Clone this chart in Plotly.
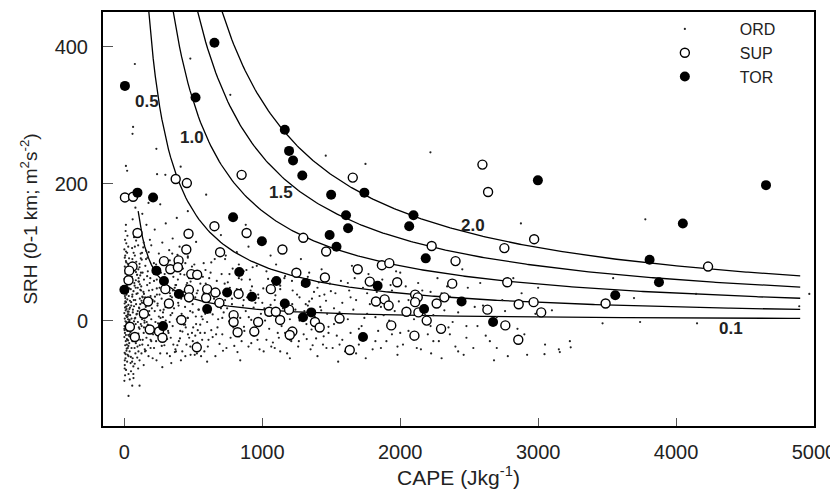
import numpy as np
import plotly.graph_objects as go

# energy-helicity index isopleths: EHI = CAPE * SRH / 160000
ehi_levels = [0.1, 0.5, 1.0, 1.5, 2.0]
ehi_labels = ["0.1", "0.5", "1.0", "1.5", "2.0"]
ehi_label_cape = [4400, 165, 490, 1135, 2530]
ehi_label_srh = [-12, 320, 267, 187, 139]

tor_cape = [4, 653, 516, 1163, 1194, 1223, 1290, 1499, 1740, 95, 208, 788, 1607, 1622,
            1488, 1538, 997, 232, 287, 395, 833, 1102, 1315, 1836, 745, 925, 1163, 600,
            1355, 1295, 0, 280, 1730, 2998, 4652, 4049, 2096, 2065, 2185, 3808, 3876,
            3559, 2445, 2173, 2673]
tor_srh = [343, 406, 326, 279, 248, 234, 212, 184, 187, 187, 180, 151, 154, 135,
           125, 108, 116, 73, 58, 39, 71, 58, 55, 51, 41, 35, 25, 17,
           12, 5, 45, -8, -24, 205, 198, 142, 154, 138, 91, 89, 56,
           37, 28, 17, -2]

sup_cape = [4, 63, 372, 453, 850, 1656, 95, 465, 653, 886, 1297, 449, 694, 1146, 1463,
            59, 35, 30, 287, 393, 333, 388, 485, 528, 1247, 1454, 1692, 1867, 1921,
            1779, 1978, 297, 468, 468, 600, 660, 828, 593, 172, 323, 689, 1062, 1194,
            1050, 1098, 1824, 1887, 1916, 141, 413, 792, 792, 970, 1129, 1382, 1416,
            1560, 1935, 40, 184, 251, 76, 276, 821, 942, 1218, 1199, 525, 1634,
            2596, 2637, 2228, 2401, 2755, 2971, 4232, 2377, 2776, 2108, 2127, 2108,
            2320, 2264, 2045, 2132, 2192, 2632, 2859, 2967, 3022, 3489, 2103, 2296,
            2762, 2856]
sup_srh = [180, 181, 207, 201, 213, 209, 128, 127, 138, 128, 121, 104, 100, 104, 101,
           79, 73, 59, 87, 88, 75, 78, 68, 67, 70, 63, 75, 81, 84,
           57, 56, 46, 45, 34, 46, 41, 39, 33, 28, 25, 26, 46, 16,
           13, 13, 28, 31, 22, 10, 1, 8, -2, -2, 1, -2, -10,
           3, -7, -9, -13, -16, -24, -25, -17, -16, -16, -21, -39, -43,
           228, 188, 109, 87, 106, 119, 79, 54, 56, 38, 34, 27,
           34, 25, 13, 12, 0, 16, 24, 27, 12, 25, -22, -12,
           -7, -28]

ord_points = [
    # CAPE near zero
    (0, -88), (5, -80), (12, -72), (3, -65), (20, -60), (8, -55), (30, -52), (2, -47), (15, -44),
    (25, -40), (6, -36), (35, -33), (10, -30), (18, -27), (0, -24), (28, -21), (4, -18), (22, -15),
    (12, -12), (33, -10), (1, -8), (16, -5), (26, -3), (8, -1), (38, 1), (3, 3), (20, 5), (13, 7),
    (30, 9), (0, 11), (24, 13), (9, 15), (36, 17), (5, 19), (17, 21), (29, 23), (2, 25), (12, 27),
    (40, 29), (21, 31), (7, 33), (32, 36), (15, 38), (0, 40), (26, 42), (10, 44), (35, 47), (4, 50),
    (19, 52), (28, 55), (13, 58), (1, 61), (37, 63), (23, 66), (8, 69), (31, 72), (16, 75), (3, 79),
    (25, 83), (11, 87), (34, 91), (6, 95), (20, 99), (0, 104), (28, 108), (14, 113), (5, 118),
    (22, 124), (9, 131), (2, -70), (18, -35), (27, 2), (10, 20), (0, -12), (33, 58), (14, 85),
    (24, -50), (7, 48), (39, -20), (11, 140),
    (3, -58), (9, -49), (17, -41), (27, -29), (36, -23), (44, -17), (52, -11), (61, -7), (70, -1),
    (79, 4), (88, 9), (97, 14), (106, 19), (115, 24), (124, 29), (133, 34), (142, 39), (6, -9),
    (14, -2), (23, 6), (31, 13), (41, 19), (49, 27), (57, 35), (66, 43), (74, 51), (83, 59), (92, 67),
    (101, 75), (110, 83), (119, 91), (128, 99), (137, 107), (146, -3), (2, -14), (11, -21), (20, -28),
    (29, -37), (38, -45), (47, -53), (56, -60), (65, -67), (74, -40), (83, -33), (92, -26), (101, -19),
    (110, -12), (119, -5), (128, 2), (137, 9), (146, 16), (4, 36), (13, 45), (22, 54), (31, 63),
    (40, 72), (49, 81), (58, 90), (67, 99), (76, 108), (85, 117), (94, 126), (103, 62), (112, 53),
    (121, 44), (130, 35), (139, 26), (148, -42), (7, 28), (16, 17), (25, 9), (34, -1), (43, -7),
    (52, 3), (61, 12), (70, 21), (79, 30), (88, 39), (97, 48), (106, 57), (115, 66), (124, -48),
    (133, -28), (142, -10), (3, 92), (12, 101), (21, 78), (30, -78), (39, -86), (48, -74), (57, -95),
    (66, -84), (75, -63), (84, 71), (93, -54), (102, -45), (111, -36), (120, 70),
    # 40-600
    (45, -62), (60, -55), (80, -48), (110, -58), (150, -45), (175, -52), (52, -40), (95, -38),
    (130, -35), (190, -40), (70, -30), (115, -28), (160, -25), (48, -22), (88, -20), (140, -18),
    (185, -15), (65, -12), (105, -10), (125, -8), (170, -6), (55, -4), (98, -2), (145, 0), (195, 2),
    (75, 3), (118, 5), (160, 7), (42, 8), (90, 10), (135, 12), (180, 14), (62, 16), (108, 18),
    (155, 20), (50, 22), (85, 24), (128, 26), (172, 28), (68, 30), (112, 32), (150, 34), (190, 36),
    (58, 38), (96, 40), (138, 42), (178, 44), (46, 46), (82, 48), (122, 50), (165, 52), (72, 55),
    (102, 57), (142, 60), (188, 62), (54, 64), (92, 67), (132, 70), (170, 72), (64, 75), (110, 78),
    (152, 80), (48, 83), (86, 86), (126, 89), (168, 92), (76, 95), (118, 98), (158, 102), (56, 106),
    (100, 110), (140, 114), (185, 118), (70, 122), (120, 127), (90, 133), (160, 140), (60, 148),
    (130, 156), (80, 165), (175, 172), (100, -70), (140, -65), (65, -78), (195, -30), (115, 45),
    (82, -5), (150, 15), (58, -30), (170, -18),
    (205, -55), (260, -48), (330, -52), (420, -45), (480, -50), (215, -40), (290, -36), (370, -42),
    (450, -35), (230, -30), (310, -27), (395, -30), (470, -25), (245, -20), (320, -18), (405, -15),
    (490, -18), (210, -12), (275, -10), (350, -8), (430, -6), (225, -2), (300, 0), (380, 2), (460, 4),
    (250, 6), (335, 8), (415, 10), (495, 12), (220, 14), (285, 16), (360, 18), (440, 20), (240, 22),
    (315, 24), (390, 26), (470, 28), (205, 30), (270, 32), (345, 34), (425, 36), (255, 38), (330, 40),
    (410, 42), (485, 44), (235, 47), (300, 50), (375, 52), (455, 55), (215, 58), (280, 61), (355, 64),
    (435, 67), (265, 70), (340, 73), (420, 76), (490, 79), (230, 82), (305, 86), (385, 90), (460, 94),
    (250, 98), (325, 103), (400, 108), (275, 114), (350, 120), (440, 126), (220, 133), (300, 142),
    (380, 150), (460, 160), (260, 170), (340, -62), (410, -58), (275, -68), (365, 48), (445, -10),
    (295, -22), (235, 60),
    (155, -44), (172, -36), (190, -28), (208, -20), (226, -12), (244, -4), (262, 4), (280, 12),
    (298, 20), (316, 28), (334, 36), (352, 44), (370, 52), (388, 60), (406, 68), (424, 76), (442, 84),
    (460, 92), (478, -38), (496, -30), (514, -22), (532, -14), (550, -6), (568, 2), (586, 10),
    (162, -2), (181, 8), (199, 18), (218, 28), (236, 38), (255, 48), (273, 58), (292, 68), (310, 78),
    (329, 88), (347, 98), (366, -46), (384, -36), (403, -26), (421, -16), (440, -6), (458, 4),
    (477, 14), (495, 24), (514, 34), (532, 44), (551, 54), (569, 64), (588, 74), (165, 65), (184, 55),
    (203, 45), (222, 35), (241, 25), (260, 15), (279, 5), (298, -5), (317, -15), (336, -25),
    (355, -35), (374, -45), (393, 22), (412, 32), (431, 42), (450, 52), (469, 62), (488, 72),
    (507, 82), (526, -48), (545, -38), (564, -28), (583, -18), (157, 90), (176, 100), (195, 110),
    (214, 84), (233, -58), (252, -25), (271, -37), (290, 92), (309, -48), (328, -2), (347, 11),
    (366, 83), (385, 96), (404, -3), (423, 7), (442, -52), (461, -20), (480, 57), (499, -10),
    (518, 6), (537, 16), (556, -52), (575, 40), (594, 22),
    # 500-1500
    (510, -50), (580, -45), (660, -52), (740, -40), (820, -46), (900, -38), (980, -42), (530, -32),
    (610, -28), (690, -34), (770, -25), (850, -30), (940, -22), (550, -18), (630, -14), (710, -20),
    (790, -10), (870, -15), (960, -8), (520, -5), (600, -2), (680, 2), (760, -1), (840, 4), (920, 1),
    (560, 6), (640, 9), (720, 12), (800, 8), (880, 14), (990, 10), (540, 16), (620, 20), (700, 18),
    (780, 24), (860, 22), (950, 26), (570, 28), (650, 32), (730, 30), (810, 36), (890, 34), (970, 38),
    (525, 40), (605, 44), (685, 42), (765, 48), (845, 46), (925, 50), (590, 54), (670, 58), (750, 56),
    (830, 62), (910, 60), (545, 66), (625, 70), (705, 68), (785, 76), (865, 72), (960, 80), (575, 84),
    (655, 90), (735, 95), (815, 100), (900, 108), (520, 115), (700, 125), (880, 140), (600, -60),
    (840, -58),
    (605, -38), (640, -24), (675, -10), (710, 4), (745, 18), (780, 32), (815, 46), (850, 60),
    (885, 74), (920, -33), (955, -19), (990, -5), (1025, 9), (1060, 23), (1095, 37), (1130, 51),
    (1165, 65), (1200, -28), (1235, -14), (1270, 0), (1305, 14), (1340, 28), (1375, 42), (1410, 56),
    (1445, -23), (1480, -9), (622, 12), (657, 26), (692, 40), (727, 54), (762, 68), (797, -37),
    (832, -23), (867, -9), (902, 5), (937, 19), (972, 33), (1007, 47), (1042, 61), (1077, -32),
    (1112, -18), (1147, -4), (1182, 10), (1217, 24), (1252, 38), (1287, 52), (1322, -27),
    (1357, -13), (1392, 1), (1427, 15), (1462, 29), (1497, 43), (615, 62), (665, -20), (715, -44),
    (765, 38), (815, -6), (865, 30), (915, 44), (965, -28), (1015, 18), (1065, -38), (1115, 12),
    (1165, -18), (1215, 58), (1265, -30), (1315, 24), (1365, -36), (1415, 36), (1465, -40),
    (630, 85), (730, 90), (830, 82), (930, 78), (1030, 72), (1130, -45), (1230, 70), (1330, 64),
    (1430, 60),
    (1010, -45), (1090, -40), (1180, -48), (1260, -38), (1350, -42), (1440, -35), (1030, -28),
    (1120, -25), (1210, -30), (1300, -20), (1390, -26), (1480, -18), (1050, -12), (1140, -8),
    (1230, -14), (1320, -5), (1410, -10), (1020, 0), (1110, 4), (1200, 2), (1290, 8), (1380, 6),
    (1470, 10), (1060, 14), (1150, 18), (1240, 16), (1330, 22), (1420, 20), (1000, 26), (1090, 30),
    (1180, 28), (1270, 34), (1360, 32), (1450, 38), (1040, 42), (1130, 46), (1220, 44), (1310, 50),
    (1400, 48), (1490, 54), (1070, 58), (1160, 62), (1250, 66), (1340, 70), (1430, 75), (1100, 82),
    (1280, 90), (1200, -55), (1400, -52), (1060, 95),
    # 1500-3300
    (1510, -40), (1600, -45), (1700, -35), (1800, -42), (1900, -30), (1980, -38), (1540, -22),
    (1640, -18), (1740, -25), (1840, -15), (1940, -20), (1520, -5), (1620, 2), (1720, -8), (1820, 5),
    (1920, 0), (1560, 12), (1660, 16), (1760, 10), (1860, 20), (1960, 14), (1580, 26), (1680, 30),
    (1780, 24), (1880, 34), (1990, 28), (1530, 40), (1630, 44), (1730, 48), (1830, 42), (1930, 52),
    (1570, 58), (1670, 62), (1770, 68), (1870, 60), (1970, 72), (1650, 80), (1850, 85), (1750, -55),
    (1550, -60),
    (1520, 18), (1580, -28), (1640, 34), (1700, -12), (1760, 40), (1820, -30), (1880, 8), (1940, 44),
    (2000, -18), (2060, 30), (2120, -40), (2180, 8), (2240, -30), (2300, 40), (2360, -20), (2420, 12),
    (2480, -8), (2540, 20), (2620, -22), (2700, -40), (2760, 14), (2840, -30), (2920, -50), (2960, 30),
    (1560, -35), (1620, 55), (1680, -48), (1740, 4), (1800, 58), (1860, -40), (1920, 20), (1980, -50),
    (2040, 50), (2100, -28), (2160, 44), (2220, -8), (2280, 30), (2340, 50), (2400, -38), (2460, -50),
    (2020, -35), (2150, -42), (2280, -30), (2420, -45), (2060, -15), (2200, -20), (2350, -10),
    (2480, -25), (2100, 2), (2240, 8), (2380, -2), (2040, 18), (2180, 22), (2320, 15), (2460, 28),
    (2080, 38), (2220, 42), (2360, 35), (2490, 48), (2130, 55), (2270, 62), (2400, 58), (2000, 70),
    (2300, -55), (2450, 75), (2530, -40), (2650, -30), (2780, -52), (2900, -20), (3050, -35),
    (2560, -8), (2700, 5), (2850, -12), (2980, 10), (2600, 22), (2740, 30), (2880, 40), (3100, 15),
    (2580, 55), (2820, 62), (3000, 48), (3230, -30), (2680, -58), (3150, -42),
    # scattered
    (3467, -4), (3739, -2), (4152, -4), (4966, 39), (4893, 21), (3777, 148), (2875, 142), (3544, 62),
    (4145, 39), (3695, 33), (3236, -39), (3157, -46), (3046, -49), (2224, -48), (2219, 246),
    (1460, 241), (1748, 229), (76, 375), (478, 383), (768, 330), (63, 283), (59, 273), (232, 251),
    (11, 226), (20, 219), (408, 225), (297, 213), (237, 214), (593, 184), (30, -110), (110, -95),
]
ord_cape = [p[0] for p in ord_points]
ord_srh = [p[1] for p in ord_points]

font = "Liberation Sans, Arial, sans-serif"
fig = go.Figure()

for lev in ehi_levels:
    cmin = 100 if lev == 0.1 else lev * 160000 / 452
    cape = np.linspace(cmin, 4900, 300)
    fig.add_trace(go.Scatter(x=cape, y=lev * 160000 / cape, mode="lines",
                             line=dict(color="black", width=1.3),
                             showlegend=False, hoverinfo="skip"))

fig.add_trace(go.Scatter(x=ord_cape, y=ord_srh, mode="markers", name="ORD",
                         marker=dict(size=2.2, color="#222")))
fig.add_trace(go.Scatter(x=sup_cape, y=sup_srh, mode="markers", name="SUP",
                         marker=dict(size=9, color="white", symbol="circle",
                                     line=dict(color="black", width=1.4))))
fig.add_trace(go.Scatter(x=tor_cape, y=tor_srh, mode="markers", name="TOR",
                         marker=dict(size=10, color="black")))

for t, cx, cy in zip(ehi_labels, ehi_label_cape, ehi_label_srh):
    fig.add_annotation(x=cx, y=cy, text="<b>%s</b>" % t, showarrow=False,
                       font=dict(size=17, color="#222", family=font))

# page body has an 8px margin, so the figure is shifted by 8px
fig.update_layout(
    width=830, height=481,
    margin=dict(l=95, r=21, t=2, b=62),
    plot_bgcolor="white", paper_bgcolor="white",
    font=dict(family=font, size=20, color="#222"),
    legend=dict(x=0.741, y=1.0, xanchor="left", yanchor="top",
                bgcolor="rgba(0,0,0,0)", font=dict(size=16), tracegroupgap=0,
                itemwidth=100),
)
fig.update_xaxes(range=[-155, 5000], tickvals=[0, 1000, 2000, 3000, 4000, 5000],
                 ticks="inside", ticklen=8, tickcolor="#555", ticklabelstandoff=7,
                 ticklabeloverflow="allow",
                 showline=True, linecolor="black", linewidth=2, mirror=True,
                 showgrid=False, zeroline=False,
                 title=dict(text="CAPE (Jkg<sup>-1</sup>)", standoff=9, font=dict(size=21)))
fig.update_yaxes(range=[-154, 451], tickvals=[0, 200, 400],
                 ticks="inside", ticklen=10, tickcolor="#555", ticklabelstandoff=9,
                 showline=True, linecolor="black", linewidth=2, mirror=True,
                 showgrid=False, zeroline=False,
                 title=dict(text="SRH (0-1 km; m<sup>2</sup>s<sup>-2</sup>)", standoff=12,
                            font=dict(size=19)))

fig.write_html("out.html")
